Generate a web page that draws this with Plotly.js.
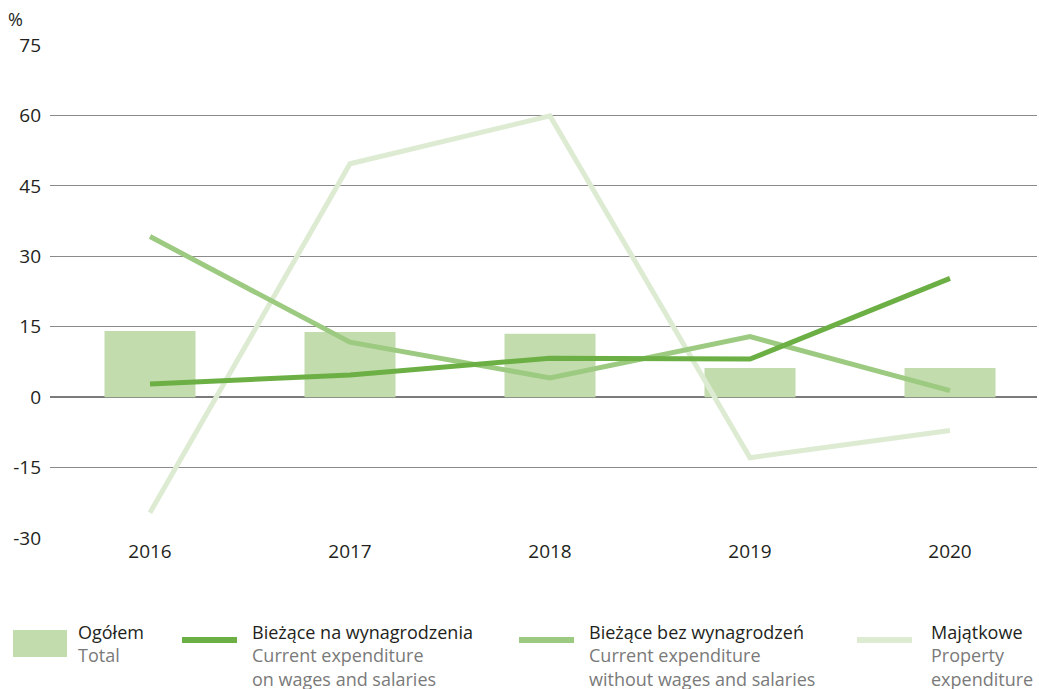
<!DOCTYPE html>
<html>
<head>
<meta charset="utf-8">
<script src="https://cdn.plot.ly/plotly-3.0.1.min.js"></script>
<style>
  html, body { margin: 0; padding: 0; background: #fff; }
  #plot { width: 1039px; height: 689px; }
</style>
</head>
<body>
<div id="plot"></div>
<script>
// Data
let years = ['2016', '2017', '2018', '2019', '2020'];
let total = [14.1, 13.9, 13.5, 6.2, 6.2];
let wages = [2.8, 4.7, 8.3, 8.1, 25.3];
let withoutWages = [34.2, 11.7, 4.1, 12.9, 1.4];
let property = [-24.6, 49.7, 59.9, -12.9, -7.1];
let yTicks = [-30, -15, 0, 15, 30, 45, 60, 75];
let yTickText = ['-30', '-15', '0', '15', '30', '45', '60', '75'];

// Colours
let cTotal = '#c3dcad';
let cWages = '#6cb045';
let cWithout = '#9cca80';
let cProperty = '#ddebd2';

let font = 'Open Sans, Noto Sans, sans-serif';

// Traces
let traceTotal = {
    x: years, y: total, type: 'bar', name: 'Ogółem',
    marker: {color: cTotal}, width: 0.455, hoverinfo: 'skip'
};
let traceWages = {
    x: years, y: wages, type: 'scatter', mode: 'lines', name: 'Bieżące na wynagrodzenia',
    line: {color: cWages, width: 5}, hoverinfo: 'skip'
};
let traceWithout = {
    x: years, y: withoutWages, type: 'scatter', mode: 'lines', name: 'Bieżące bez wynagrodzeń',
    line: {color: cWithout, width: 5}, hoverinfo: 'skip'
};
let traceProperty = {
    x: years, y: property, type: 'scatter', mode: 'lines', name: 'Majątkowe',
    line: {color: cProperty, width: 5}, hoverinfo: 'skip'
};

let data = [traceTotal, traceProperty, traceWithout, traceWages];

// Plot area in pixels, used to place the custom legend below it
let W = 1039, H = 689;
let mL = 50, mR = 2, mT = 45, mB = 151;
let plotH = H - mT - mB;
let plotW = W - mL - mR;
function py(pixY) { return (H - mB - pixY) / plotH; }
function px(pixX) { return (pixX - mL) / plotW; }

// Custom legend: Polish name in dark, English in grey below it
let legendItems = [
    {kind: 'box', color: cTotal, x0: 13, x1: 67, tx: 77, pl: 'Ogółem', en: 'Total'},
    {kind: 'line', color: cWages, x0: 182, x1: 237, tx: 251, pl: 'Bieżące na wynagrodzenia', en: 'Current expenditure<br>on wages and salaries'},
    {kind: 'line', color: cWithout, x0: 519, x1: 574, tx: 588, pl: 'Bieżące bez wynagrodzeń', en: 'Current expenditure<br>without wages and salaries'},
    {kind: 'line', color: cProperty, x0: 857, x1: 912, tx: 930, pl: 'Majątkowe', en: 'Property<br>expenditure'}
];

let shapes = [];
let annotations = [];
legendItems.forEach(function (it) {
    if (it.kind === 'box') {
        shapes.push({type: 'rect', xref: 'paper', yref: 'paper',
            x0: px(it.x0), x1: px(it.x1), y0: py(657), y1: py(630),
            fillcolor: it.color, line: {width: 0}});
    } else {
        shapes.push({type: 'line', xref: 'paper', yref: 'paper',
            x0: px(it.x0), x1: px(it.x1), y0: py(640), y1: py(640),
            line: {color: it.color, width: 6}});
    }
    annotations.push({xref: 'paper', yref: 'paper', x: px(it.tx), y: py(619),
        xanchor: 'left', yanchor: 'top', align: 'left', showarrow: false, borderpad: 0,
        text: '<span style="color:#231f20">' + it.pl + '</span><br>' + it.en,
        font: {family: font, size: 18, color: '#7a7a7a'}});
});

// Unit label
annotations.push({xref: 'paper', yref: 'paper', x: px(6), y: py(19),
    xanchor: 'left', yanchor: 'middle', showarrow: false,
    text: '%', font: {family: font, size: 18, color: '#231f20'}});

let layout = {
    width: W, height: H,
    margin: {l: mL, r: mR, t: mT, b: mB},
    paper_bgcolor: '#ffffff', plot_bgcolor: '#ffffff',
    showlegend: false,
    font: {family: font, size: 16, color: '#231f20'},
    xaxis: {
        type: 'category', range: [-0.5, 4.435],
        showgrid: false, zeroline: false, showline: false, ticks: '',
        tickfont: {family: font, size: 19, color: '#231f20'}, fixedrange: true
    },
    yaxis: {
        range: [-30, 75], tickmode: 'array', tickvals: yTicks, ticktext: yTickText,
        showgrid: true, gridcolor: '#8a8a8a', gridwidth: 1,
        zeroline: true, zerolinecolor: '#7a7a7a', zerolinewidth: 1.5,
        showline: false, ticks: '', ticklabelstandoff: 8,
        tickfont: {family: font, size: 19, color: '#231f20'}, fixedrange: true
    },
    shapes: shapes,
    annotations: annotations
};

Plotly.newPlot('plot', data, layout, {staticPlot: true});
</script>
</body>
</html>
